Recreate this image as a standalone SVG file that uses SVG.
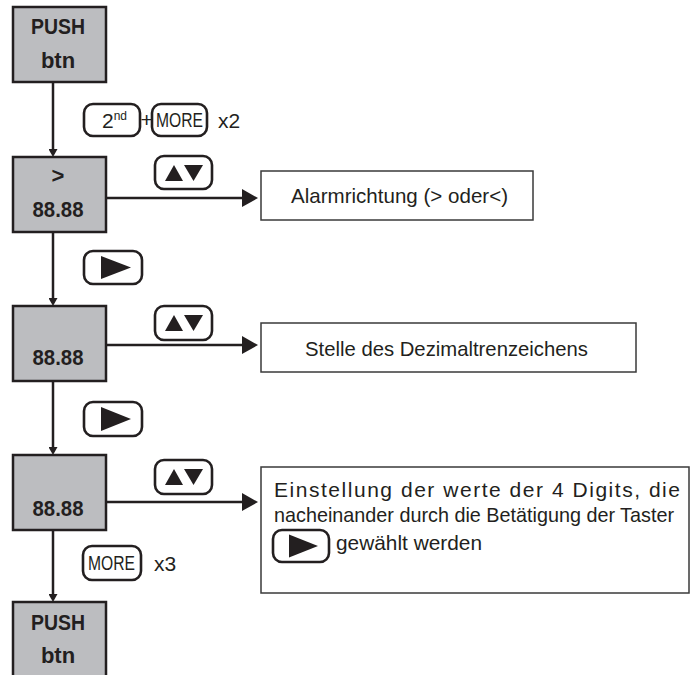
<svg xmlns="http://www.w3.org/2000/svg" width="691" height="675" viewBox="0 0 691 675">
<style>
.node{fill:#bcbdc0;stroke:#231f20;stroke-width:2.5}
.lbl{font-family:"Liberation Sans",Arial,sans-serif;font-weight:bold;font-size:22px;fill:#231f20;text-anchor:middle}
.info{fill:#fff;stroke:#3a3a3a;stroke-width:1.5}
.txt{font-family:"Liberation Sans",Arial,sans-serif;font-size:21px;fill:#231f20}
.btn{fill:#fff;stroke:#231f20;stroke-width:2.6}
.tri{fill:#231f20}
.conn{stroke:#231f20;stroke-width:2.5;fill:none}
</style>
<defs>
<marker id="ahS" viewBox="0 0 8 9" markerWidth="8" markerHeight="9" refX="5" refY="4.5" orient="auto" markerUnits="userSpaceOnUse"><path d="M0,0 L8,4.5 L0,9 z" fill="#231f20"/></marker>
<marker id="ahL" viewBox="0 0 16 18" markerWidth="16" markerHeight="18" refX="12" refY="9" orient="auto" markerUnits="userSpaceOnUse"><path d="M0,0 L16,9 L0,18 z" fill="#231f20"/></marker>
</defs>

<g id="connectors">
<line class="conn" x1="53" y1="82" x2="53" y2="154" marker-end="url(#ahS)"/>
<line class="conn" x1="53" y1="232" x2="53" y2="303" marker-end="url(#ahS)"/>
<line class="conn" x1="53" y1="381" x2="53" y2="452" marker-end="url(#ahS)"/>
<line class="conn" x1="53" y1="530" x2="53" y2="599" marker-end="url(#ahS)"/>
<line class="conn" x1="106" y1="198" x2="254" y2="198" marker-end="url(#ahL)"/>
<line class="conn" x1="106" y1="345" x2="254" y2="345" marker-end="url(#ahL)"/>
<line class="conn" x1="106" y1="502" x2="254" y2="502" marker-end="url(#ahL)"/>
</g>

<g id="push1">
<rect class="node" x="13" y="7" width="93" height="75"/>
<text class="lbl" x="58" y="34" textLength="54" lengthAdjust="spacingAndGlyphs">PUSH</text>
<text class="lbl" x="58" y="68">btn</text>
</g>

<g id="key-2nd-more">
<rect class="btn" x="84" y="104" width="56" height="32" rx="9"/>
<text class="txt" x="102" y="128" font-size="20">2<tspan font-size="12" dy="-8">nd</tspan></text>
<text class="txt" x="140.5" y="127" font-size="18">+</text>
<rect class="btn" x="152" y="104" width="55" height="32" rx="9"/>
<text class="txt" x="156" y="127" font-size="17" textLength="47" lengthAdjust="spacingAndGlyphs">MORE</text>
<text class="txt" x="218" y="128" font-size="20">x2</text>
</g>

<g id="alarm-node">
<rect class="node" x="13" y="157" width="93" height="75"/>
<text class="lbl" x="58" y="183">&gt;</text>
<text class="lbl" x="58" y="217" textLength="51" lengthAdjust="spacingAndGlyphs">88.88</text>
</g>

<g id="key-updown-1">
<rect class="btn" x="155" y="156" width="57" height="33" rx="9"/>
<polygon class="tri" points="165,181 174,165 183,181"/>
<polygon class="tri" points="184,165 203,165 193.5,181"/>
</g>

<g id="alarm-info">
<rect class="info" x="261" y="171" width="272" height="49"/>
<text class="txt" x="291" y="203" textLength="217" lengthAdjust="spacingAndGlyphs">Alarmrichtung (&gt; oder&lt;)</text>
</g>

<g id="key-right-1">
<rect class="btn" x="84" y="251" width="58" height="33" rx="9"/>
<polygon class="tri" points="101,256 131,267.5 101,279"/>
</g>

<g id="decimal-node">
<rect class="node" x="13" y="306" width="93" height="75"/>
<text class="lbl" x="58" y="365" textLength="51" lengthAdjust="spacingAndGlyphs">88.88</text>
</g>

<g id="key-updown-2">
<rect class="btn" x="155" y="306" width="57" height="34" rx="9"/>
<polygon class="tri" points="165,331 174,315 183,331"/>
<polygon class="tri" points="184,315 203,315 193.5,331"/>
</g>

<g id="decimal-info">
<rect class="info" x="261" y="323" width="375" height="49"/>
<text class="txt" x="305" y="356" textLength="283" lengthAdjust="spacingAndGlyphs">Stelle des Dezimaltrenzeichens</text>
</g>

<g id="key-right-2">
<rect class="btn" x="84" y="402" width="58" height="34" rx="9"/>
<polygon class="tri" points="101,407 131,419 101,431"/>
</g>

<g id="digits-node">
<rect class="node" x="13" y="455" width="93" height="75"/>
<text class="lbl" x="58" y="516" textLength="51" lengthAdjust="spacingAndGlyphs">88.88</text>
</g>

<g id="key-updown-3">
<rect class="btn" x="155" y="460" width="57" height="34" rx="9"/>
<polygon class="tri" points="165,485 174,469 183,485"/>
<polygon class="tri" points="184,469 203,469 193.5,485"/>
</g>

<g id="digits-info">
<rect class="info" x="261" y="467" width="428" height="126"/>
<text class="txt" x="274" y="497" textLength="406" lengthAdjust="spacing">Einstellung der werte der 4 Digits, die</text>
<text class="txt" x="274" y="522" font-size="19" textLength="400" lengthAdjust="spacingAndGlyphs">nacheinander durch die Betätigung der Taster</text>
<rect class="btn" x="273" y="530" width="56" height="32" rx="9"/>
<polygon class="tri" points="289,534.5 318,546 289,557.5"/>
<text class="txt" x="336" y="550" textLength="146" lengthAdjust="spacingAndGlyphs">gewählt werden</text>
</g>

<g id="key-more">
<rect class="btn" x="83" y="546" width="58" height="34" rx="9"/>
<text class="txt" x="88" y="570" font-size="17" textLength="47" lengthAdjust="spacingAndGlyphs">MORE</text>
<text class="txt" x="154" y="571" font-size="20">x3</text>
</g>

<g id="push2">
<rect class="node" x="13" y="602" width="93" height="80"/>
<text class="lbl" x="58" y="630" textLength="54" lengthAdjust="spacingAndGlyphs">PUSH</text>
<text class="lbl" x="58" y="663">btn</text>
</g>
</svg>
